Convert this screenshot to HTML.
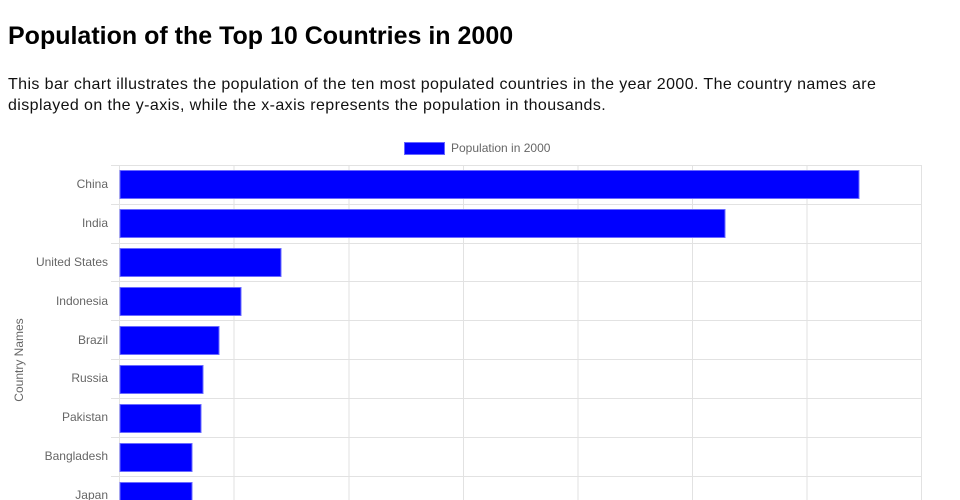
<!DOCTYPE html>
<html><head><meta charset="utf-8"><style>
body{margin:0;width:960px;height:500px;overflow:hidden;background:#fff;font-family:"Liberation Sans",sans-serif;}
h1{position:absolute;left:8px;top:22px;margin:0;font-size:25px;font-weight:bold;color:#000;letter-spacing:0px}
p{position:absolute;left:8px;top:74px;margin:0;width:900px;font-size:16px;line-height:21px;color:#111;letter-spacing:0.4px}
svg{position:absolute;left:0;top:0}
</style></head><body>
<h1>Population of the Top 10 Countries in 2000</h1>
<p>This bar chart illustrates the population of the ten most populated countries in the year 2000. The country names are displayed on the y-axis, while the x-axis represents the population in thousands.</p>
<svg width="960" height="500" font-family="Liberation Sans, sans-serif">
<rect x="404.5" y="142.5" width="40" height="12" fill="#00f" stroke="#66f"/>
<text x="451" y="152" font-size="12" fill="#666">Population in 2000</text>
<g stroke="#e2e2e2" stroke-width="1">
<line x1="119.5" y1="165" x2="119.5" y2="500"/>
<line x1="234" y1="165" x2="234" y2="500"/>
<line x1="349" y1="165" x2="349" y2="500"/>
<line x1="463.5" y1="165" x2="463.5" y2="500"/>
<line x1="578" y1="165" x2="578" y2="500"/>
<line x1="692.5" y1="165" x2="692.5" y2="500"/>
<line x1="807" y1="165" x2="807" y2="500"/>
<line x1="921.5" y1="165" x2="921.5" y2="500"/>
<line x1="111" y1="165.5" x2="921.5" y2="165.5"/>
<line x1="111" y1="204.5" x2="921.5" y2="204.5"/>
<line x1="111" y1="243.5" x2="921.5" y2="243.5"/>
<line x1="111" y1="281.5" x2="921.5" y2="281.5"/>
<line x1="111" y1="320.5" x2="921.5" y2="320.5"/>
<line x1="111" y1="359.5" x2="921.5" y2="359.5"/>
<line x1="111" y1="398.5" x2="921.5" y2="398.5"/>
<line x1="111" y1="437.5" x2="921.5" y2="437.5"/>
<line x1="111" y1="476.5" x2="921.5" y2="476.5"/>
</g>
<g fill="#00f" stroke="#6b6bff" stroke-width="1">
<rect x="120" y="170.5" width="739" height="28"/>
<rect x="120" y="209.5" width="605" height="28"/>
<rect x="120" y="248.5" width="161" height="28"/>
<rect x="120" y="287.5" width="121" height="28"/>
<rect x="120" y="326.5" width="99" height="28"/>
<rect x="120" y="365.5" width="83" height="28"/>
<rect x="120" y="404.5" width="81" height="28"/>
<rect x="120" y="443.5" width="72" height="28"/>
<rect x="120" y="482.5" width="72" height="28"/>
</g>
<g font-size="12" fill="#666" text-anchor="end">
<text x="108" y="188">China</text>
<text x="108" y="227">India</text>
<text x="108" y="266">United States</text>
<text x="108" y="305">Indonesia</text>
<text x="108" y="344">Brazil</text>
<text x="108" y="382">Russia</text>
<text x="108" y="421">Pakistan</text>
<text x="108" y="460">Bangladesh</text>
<text x="108" y="499">Japan</text>
</g>
<text transform="translate(23,360) rotate(-90)" text-anchor="middle" font-size="12" fill="#666">Country Names</text>
</svg>
</body></html>
